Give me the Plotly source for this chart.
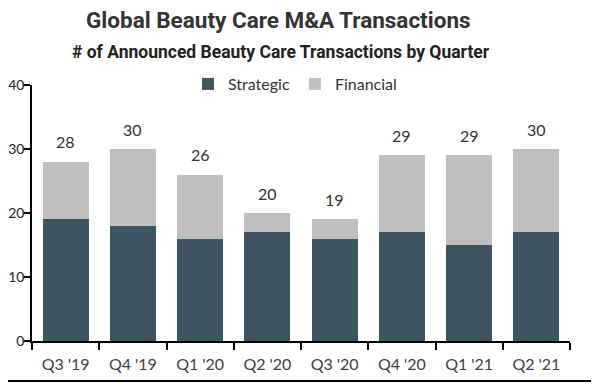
import plotly.graph_objects as go

quarters = ["Q3 '19", "Q4 '19", "Q1 '20", "Q2 '20", "Q3 '20", "Q4 '20", "Q1 '21", "Q2 '21"]
strategic = [19, 18, 16, 17, 16, 17, 15, 17]
financial = [9, 12, 10, 3, 3, 12, 14, 13]
totals = [s + f for s, f in zip(strategic, financial)]

# the page body adds an 8px margin, so the figure is 8px smaller and shifted
OFF = 8
W, H = 599 - OFF, 384 - OFF
ML, MR, MT, MB = 32 - OFF, 29, 85 - OFF, 43
PW, PH = W - ML - MR, H - MT - MB


def px(x):
    return (x - OFF - ML) / PW


def py(y):
    return (H - MB - (y - OFF)) / PH


body_font = "Lato, Carlito, 'Open Sans', sans-serif"
title_font = "Roboto, sans-serif"

fig = go.Figure()
fig.add_trace(go.Bar(name="Strategic", x=quarters, y=strategic, marker_color="#3E5561",
                     marker_line_width=0))
fig.add_trace(go.Bar(name="Financial", x=quarters, y=financial, marker_color="#BFBFBF",
                     marker_line_width=0))

for q, t in zip(quarters, totals):
    fig.add_annotation(x=q, y=t, text=str(t), showarrow=False, yanchor="middle", yshift=20,
                       font=dict(family=body_font, size=16, color="#333333"))

fig.add_annotation(xref="paper", yref="paper", x=px(278), y=py(20),
                   text="<b>Global Beauty Care M&A Transactions</b>", showarrow=False,
                   xanchor="center", yanchor="middle",
                   font=dict(family=title_font, size=22.5, color="#333333"))
fig.add_annotation(xref="paper", yref="paper", x=px(281), y=py(52),
                   text="<b># of Announced Beauty Care Transactions by Quarter</b>", showarrow=False,
                   xanchor="center", yanchor="middle",
                   font=dict(family=title_font, size=17.5, color="#222222"))

fig.add_shape(type="line", xref="paper", yref="paper",
              x0=-ML / PW, x1=(W - ML) / PW, y0=py(381), y1=py(381),
              line=dict(color="black", width=2))

fig.update_layout(
    width=W, height=H,
    margin=dict(l=ML, r=MR, t=MT, b=MB, autoexpand=False),
    barmode="stack", bargap=0.316,
    plot_bgcolor="white", paper_bgcolor="white",
    font=dict(family=body_font, size=15, color="#404040"),
    legend=dict(orientation="h", xanchor="center", yanchor="middle",
                x=px(295), y=py(84),
                font=dict(family=body_font, size=16, color="#333333"),
                itemwidth=30, traceorder="normal", bgcolor="rgba(0,0,0,0)"),
    showlegend=True,
)
fig.update_xaxes(showline=True, linecolor="black", linewidth=1.5, ticks="outside",
                 tickson="boundaries", ticklen=7, tickcolor="black", tickwidth=1.5,
                 showgrid=False, automargin=False, ticklabelstandoff=8,
                 tickfont=dict(size=16, color="#404040"))
fig.update_yaxes(range=[0, 40], tickvals=[0, 10, 20, 30, 40], showline=True, linecolor="black",
                 linewidth=1.5, ticks="outside", ticklen=7, tickcolor="black", tickwidth=1.5,
                 showgrid=False, zeroline=False, ticklabelstandoff=-4, automargin=False,
                 tickfont=dict(size=14, color="#222222"))

fig.write_html("out.html")
